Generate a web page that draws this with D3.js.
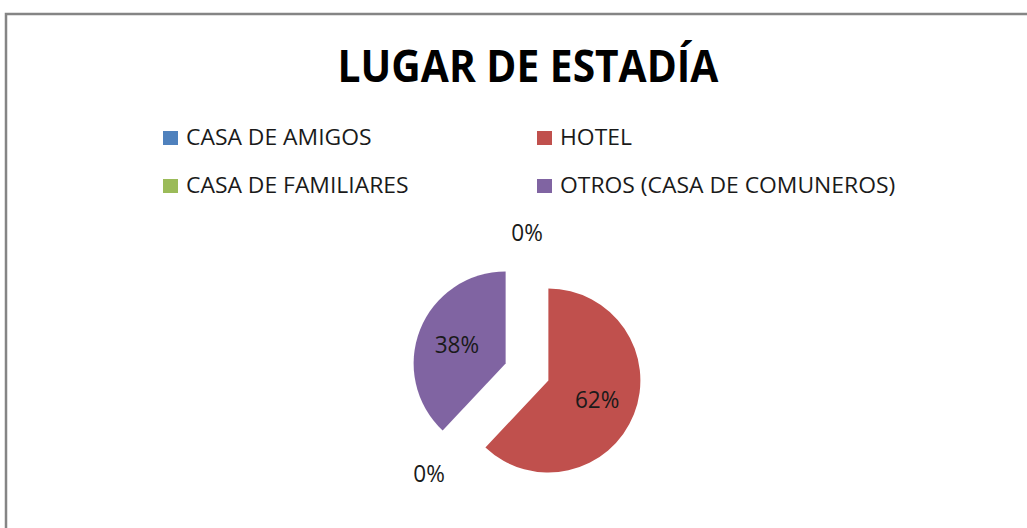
<!DOCTYPE html>
<html>
<head>
<meta charset="utf-8">
<script src="https://cdn.jsdelivr.net/npm/d3@7/dist/d3.min.js"></script>
<style>
  html, body { margin: 0; padding: 0; background: #ffffff; }
  svg { display: block; }
  text { font-family: "Open Sans", "Liberation Sans", sans-serif; }
</style>
</head>
<body>
<svg id="chart" width="1027" height="528"></svg>
<script>
// Chart data
const title = "LUGAR DE ESTADÍA";
const categories = ["CASA DE AMIGOS", "HOTEL", "CASA DE FAMILIARES", "OTROS (CASA DE COMUNEROS)"];
const values = [0, 62, 0, 38];
const sliceColors = ["#4F81BD", "#C0504D", "#9BBB59", "#8064A2"];

const W = 1027, H = 528;
const svg = d3.select("#chart");

// widen/narrow a text element horizontally by a factor
function stretch(sel, k) {
  sel.each(function () {
    const len = this.getComputedTextLength();
    d3.select(this).attr("textLength", len * k).attr("lengthAdjust", "spacingAndGlyphs");
  });
}

// chart frame
svg.append("rect")
  .attr("x", 6).attr("y", 14)
  .attr("width", W + 20).attr("height", H + 20)
  .attr("fill", "#ffffff")
  .attr("stroke", "#858585")
  .attr("stroke-width", 2.5);

// title
svg.append("text")
  .attr("x", 528).attr("y", 82)
  .attr("text-anchor", "middle")
  .attr("font-size", 44)
  .attr("font-weight", 700)
  .attr("fill", "#000")
  .text(title)
  .call(stretch, 0.925);

// legend (two columns)
const legendCols = [163, 537];
const legendRows = [145, 193];
const color = d3.scaleOrdinal().domain(categories).range(sliceColors);

const legend = svg.append("g").selectAll("g")
  .data(categories)
  .join("g")
  .attr("transform", (d, i) => `translate(${legendCols[i % 2]},${legendRows[Math.floor(i / 2)]})`);

legend.append("rect")
  .attr("x", 0).attr("y", -14)
  .attr("width", 15).attr("height", 14)
  .attr("fill", d => color(d));

legend.append("text")
  .attr("x", 23).attr("y", 0)
  .attr("font-size", 22)
  .attr("fill", "#1a1a1a")
  .text(d => d)
  .call(stretch, 1.04);

// exploded pie
const cx = 527, cy = 372, r = 92, explode = 23;

const pie = d3.pie().sort(null).value(d => d.value).startAngle(0).endAngle(2 * Math.PI);
const arcs = pie(categories.map((c, i) => ({ name: c, value: values[i] })));
const arc = d3.arc().innerRadius(0).outerRadius(r);
const mid = d => (d.startAngle + d.endAngle) / 2;
const unit = a => [Math.sin(a), -Math.cos(a)];

const pieG = svg.append("g").attr("transform", `translate(${cx},${cy})`);

const slices = pieG.selectAll("g.slice")
  .data(arcs)
  .join("g")
  .attr("class", "slice")
  .attr("transform", d => {
    const [ux, uy] = unit(mid(d));
    return `translate(${ux * explode},${uy * explode})`;
  });

slices.filter(d => d.value > 0)
  .append("path")
  .attr("d", arc)
  .attr("fill", d => color(d.data.name));

// value labels: inside for real slices, outside for empty ones
const total = d3.sum(values);
const pct = v => Math.round(v / total * 100) + "%";

slices.filter(d => d.value > 0)
  .append("text")
  .attr("transform", d => {
    const a = mid(d), [ux, uy] = unit(a), rr = r * 0.57;
    return `translate(${ux * rr},${uy * rr})`;
  })
  .attr("text-anchor", "middle")
  .attr("dy", "0.36em")
  .attr("font-size", 23)
  .attr("fill", "#1a1a1a")
  .text(d => pct(d.value))
  .call(stretch, 0.98);

const outR = 127, halfW = 16, halfH = 12;
pieG.selectAll("text.outside")
  .data(arcs.filter(d => d.value === 0))
  .join("text")
  .attr("class", "outside")
  .attr("transform", d => {
    const [ux, uy] = unit(mid(d));
    return `translate(${ux * (outR + halfW)},${uy * (outR + halfH)})`;
  })
  .attr("text-anchor", "middle")
  .attr("dy", "0.36em")
  .attr("font-size", 23)
  .attr("fill", "#1a1a1a")
  .text(d => pct(d.value))
  .call(stretch, 0.98);
</script>
</body>
</html>
